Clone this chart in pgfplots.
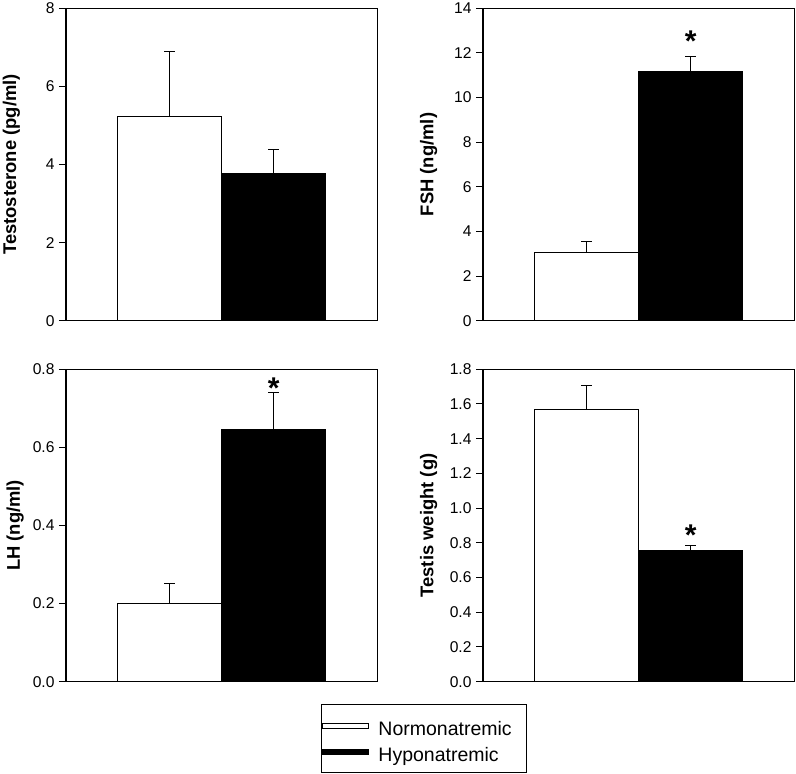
\documentclass[border=0pt]{standalone}
\usepackage{fontspec}
\setmainfont{Liberation Sans}
\usepackage{pgfplots}
\pgfplotsset{compat=1.18}
\tikzset{signif/.style={font=\fontsize{30}{30}\selectfont\bfseries, inner sep=0pt, anchor=base, yshift=-17pt}}
\pgfplotsset{
  panel/.style={
    scale only axis, width=311.5pt, height=312.5pt,
    xmin=0, xmax=6, ymin=0, xtick=\empty, ytick pos=left,
    tick align=outside, major tick length=7pt,
    axis line style={line width=1.3pt},
    every tick/.style={black, line width=1pt},
    tick label style={font=\fontsize{15.6}{16}\selectfont},
    yticklabel style={xshift=-1pt},
    /pgf/number format/assume math mode=true,
    ylabel style={font=\fontsize{18.4}{20}\selectfont\bfseries, anchor=base},
  },
  wbar/.style={ybar, bar width=2, bar shift=0pt, draw=black, line width=1pt, fill=white,
    error bars/.cd, y dir=plus, y explicit,
    error bar style={line width=1pt, black},
    error mark options={rotate=90, line width=1pt, mark size=5.5pt, black}},
  bbar/.style={ybar, bar width=2, bar shift=0pt, draw=black, line width=1pt, fill=black,
    error bars/.cd, y dir=plus, y explicit,
    error bar style={line width=1pt, black},
    error mark options={rotate=90, line width=1pt, mark size=5.5pt, black}},
}
\begin{document}
\begin{tikzpicture}
\path[use as bounding box] (0,0) rectangle (796pt,774pt);
% Top-left: Testosterone
\begin{axis}[panel, at={(66pt,453.3pt)}, anchor=south west, ymax=8, ytick={0,2,4,6,8},
  ylabel={Testosterone (pg/ml)}, ylabel style={at={(axis description cs:-0.1605,0.5)}}]
\addplot[wbar] coordinates {(2,5.23) +- (0,1.66)};
\addplot[bbar] coordinates {(4,3.78) +- (0,0.60)};
\end{axis}
% Top-right: FSH
\begin{axis}[panel, at={(483pt,453.3pt)}, anchor=south west, ymax=14, ytick={0,2,4,6,8,10,12,14},
  ylabel={FSH (ng/ml)}, ylabel style={at={(axis description cs:-0.1596,0.5)}}]
\addplot[wbar] coordinates {(2,3.07) +- (0,0.48)};
\addplot[bbar] coordinates {(4,11.17) +- (0,0.67)};
\node[signif] at (axis cs:4,12.8) {*};
\end{axis}
% Bottom-left: LH
\begin{axis}[panel, at={(66pt,92.3pt)}, anchor=south west, ymax=0.8, ytick={0,0.2,0.4,0.6,0.8},
  yticklabel style={/pgf/number format/fixed, /pgf/number format/fixed zerofill, /pgf/number format/precision=1},
  ylabel={LH (ng/ml)}, ylabel style={at={(axis description cs:-0.1477,0.5)}},
  legend style={at={(axis description cs:0.818,-0.0715)}, anchor=north west, draw=black, line width=1.3pt,
    font=\fontsize{19.5}{22}\selectfont, inner xsep=1pt, inner ysep=8.3pt, row sep=0pt,
    nodes={inner ysep=0pt, text height=22.7pt, text depth=3pt},
    /tikz/every odd column/.style={column sep=7pt}},
  legend cell align=left,
  legend image code/.code={\draw[#1, line width=1pt] (0pt,-2.5pt) rectangle (46pt,2.5pt);}]
\addplot[wbar] coordinates {(2,0.200) +- (0,0.051)};
\addlegendentry{Normonatremic\hspace*{12pt}}
\addplot[bbar] coordinates {(4,0.646) +- (0,0.095)};
\addlegendentry{Hyponatremic}
\node[signif] at (axis cs:4,0.768) {*};
\end{axis}
% Bottom-right: Testis weight
\begin{axis}[panel, at={(483pt,92.3pt)}, anchor=south west, ymax=1.8, ytick={0,0.2,0.4,0.6,0.8,1.0,1.2,1.4,1.6,1.8},
  yticklabel style={/pgf/number format/fixed, /pgf/number format/fixed zerofill, /pgf/number format/precision=1},
  ylabel={Testis weight (g)}, ylabel style={at={(axis description cs:-0.1596,0.5)}}]
\addplot[wbar] coordinates {(2,1.567) +- (0,0.137)};
\addplot[bbar] coordinates {(4,0.755) +- (0,0.030)};
\node[signif] at (axis cs:4,0.885) {*};
\end{axis}
\end{tikzpicture}
\end{document}
